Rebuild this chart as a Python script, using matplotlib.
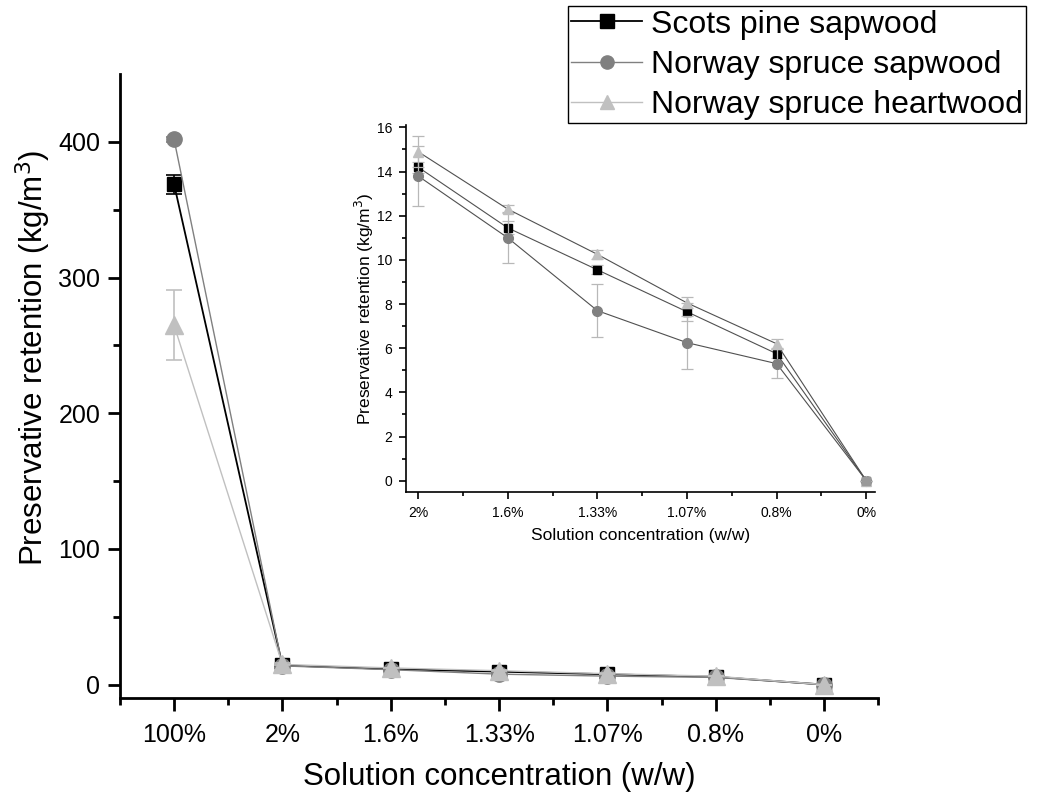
import matplotlib
matplotlib.use("Agg")
import matplotlib.pyplot as plt
import numpy as np

plt.rcParams['font.family'] = ['Liberation Sans', 'DejaVu Sans']

# ---- data ----
main_labels = ["100%", "2%", "1.6%", "1.33%", "1.07%", "0.8%", "0%"]
inset_labels = ["2%", "1.6%", "1.33%", "1.07%", "0.8%", "0%"]

scots = [369, 14.2, 11.45, 9.55, 7.65, 5.75, 0.0]
scots_err = [7, 0.25, 0.3, 0.2, 0.4, 0.2, 0.0]
spruce_sap = [402, 13.8, 11.0, 7.7, 6.25, 5.3, 0.0]
spruce_sap_err = [2, 1.35, 1.15, 1.2, 1.2, 0.65, 0.0]
spruce_heart = [265, 14.9, 12.3, 10.25, 8.05, 6.2, 0.0]
spruce_heart_err = [26, 0.7, 0.2, 0.2, 0.25, 0.2, 0.0]

series_names = ["Scots pine sapwood", "Norway spruce sapwood", "Norway spruce heartwood"]
colors = ["#000000", "#808080", "#c0c0c0"]
markers = ["s", "o", "^"]

fig = plt.figure(figsize=(10.42, 7.97), dpi=100)

# ---- main axes ----
ax = fig.add_axes([0.115, 0.124, 0.728, 0.783])
x = np.arange(len(main_labels))
data = [(scots, scots_err), (spruce_sap, spruce_sap_err), (spruce_heart, spruce_heart_err)]
handles = []
for (vals, errs), name, c, m, lw, ms in zip(data, series_names, colors, markers,
                                            [1.3, 1.0, 1.0], [10, 11, 12.5]):
    ax.errorbar(x, vals, yerr=errs, color=c, ecolor=c, elinewidth=1.2, capsize=6,
                capthick=1.2, lw=0, marker=None)
    h, = ax.plot(x, vals, color=c, lw=lw, marker=m, markersize=ms,
                 markerfacecolor=c, markeredgecolor=c, label=name)
    handles.append(h)

ax.set_xlim(-0.5, 6.5)
ax.set_ylim(-10, 450)
ax.set_xticks(x)
ax.set_xticklabels(main_labels)
ax.set_xticks(np.arange(-0.5, 6.6, 0.5), minor=True)
ax.set_yticks([0, 100, 200, 300, 400])
ax.set_yticks([50, 150, 250, 350], minor=True)
for s in ['top', 'right']:
    ax.spines[s].set_visible(False)
for s in ['left', 'bottom']:
    ax.spines[s].set_linewidth(2.0)
ax.tick_params(axis='both', which='major', direction='out', length=9, width=2,
               labelsize=18)
ax.tick_params(axis='x', which='major', pad=9)
ax.tick_params(axis='y', which='major', pad=5)
ax.tick_params(axis='both', which='minor', direction='out', length=5, width=2)
ax.set_xlabel("Solution concentration (w/w)", fontsize=22.5, labelpad=11)
ax.set_ylabel("Preservative retention (kg/m$^3$)", fontsize=22.5)
ax.yaxis.set_label_coords(-0.088, 0.546)

# ---- inset axes ----
ai = fig.add_axes([0.390, 0.383, 0.450, 0.460])
xi = np.arange(len(inset_labels))
inset_data = [(scots[1:], scots_err[1:]), (spruce_sap[1:], spruce_sap_err[1:]),
              (spruce_heart[1:], spruce_heart_err[1:])]
for (vals, errs), c, m, ms in zip(inset_data, colors, markers, [6, 7, 7.5]):
    ai.errorbar(xi, vals, yerr=errs, color="#b8b8b8", ecolor="#b8b8b8",
                elinewidth=0.9, capsize=4, capthick=0.9, lw=0)
    ai.plot(xi, vals, color="#505050", lw=0.8, marker=m, markersize=ms,
            markerfacecolor=c, markeredgecolor=c)
ai.plot([5], [0], marker='s', markersize=6, color="#999999", lw=0)
ai.set_xlim(-0.13, 5.1)
ai.set_ylim(-0.5, 16.1)
ai.set_xticks(xi)
ai.set_xticklabels(inset_labels)
ai.set_xticks(np.arange(0.5, 5.0, 0.5), minor=True)
ai.set_yticks(np.arange(0, 17, 2))
ai.set_yticks(np.arange(1, 16, 2), minor=True)
for s in ['top', 'right']:
    ai.spines[s].set_visible(False)
for s in ['left', 'bottom']:
    ai.spines[s].set_linewidth(1.2)
ai.tick_params(axis='both', which='major', direction='out', length=5, width=1.2,
               labelsize=10, pad=5)
ai.tick_params(axis='both', which='minor', direction='out', length=3, width=1.2)
ai.set_xlabel("Solution concentration (w/w)", fontsize=12.5, labelpad=6)
ai.set_ylabel("Preservative retention (kg/m$^3$)", fontsize=12.5, labelpad=1)

# ---- legend ----
leg = fig.legend(handles=handles, loc='upper right', bbox_to_anchor=(0.985, 0.992),
                 fontsize=23, frameon=True, fancybox=False, edgecolor='black',
                 framealpha=1, handlelength=2.2, handletextpad=0.3,
                 borderpad=0.1, labelspacing=0.32, borderaxespad=0)
leg.get_frame().set_linewidth(1.0)
for lh in leg.legend_handles:
    lh.set_markersize(9.5)

fig.savefig("out.png", dpi=100)
